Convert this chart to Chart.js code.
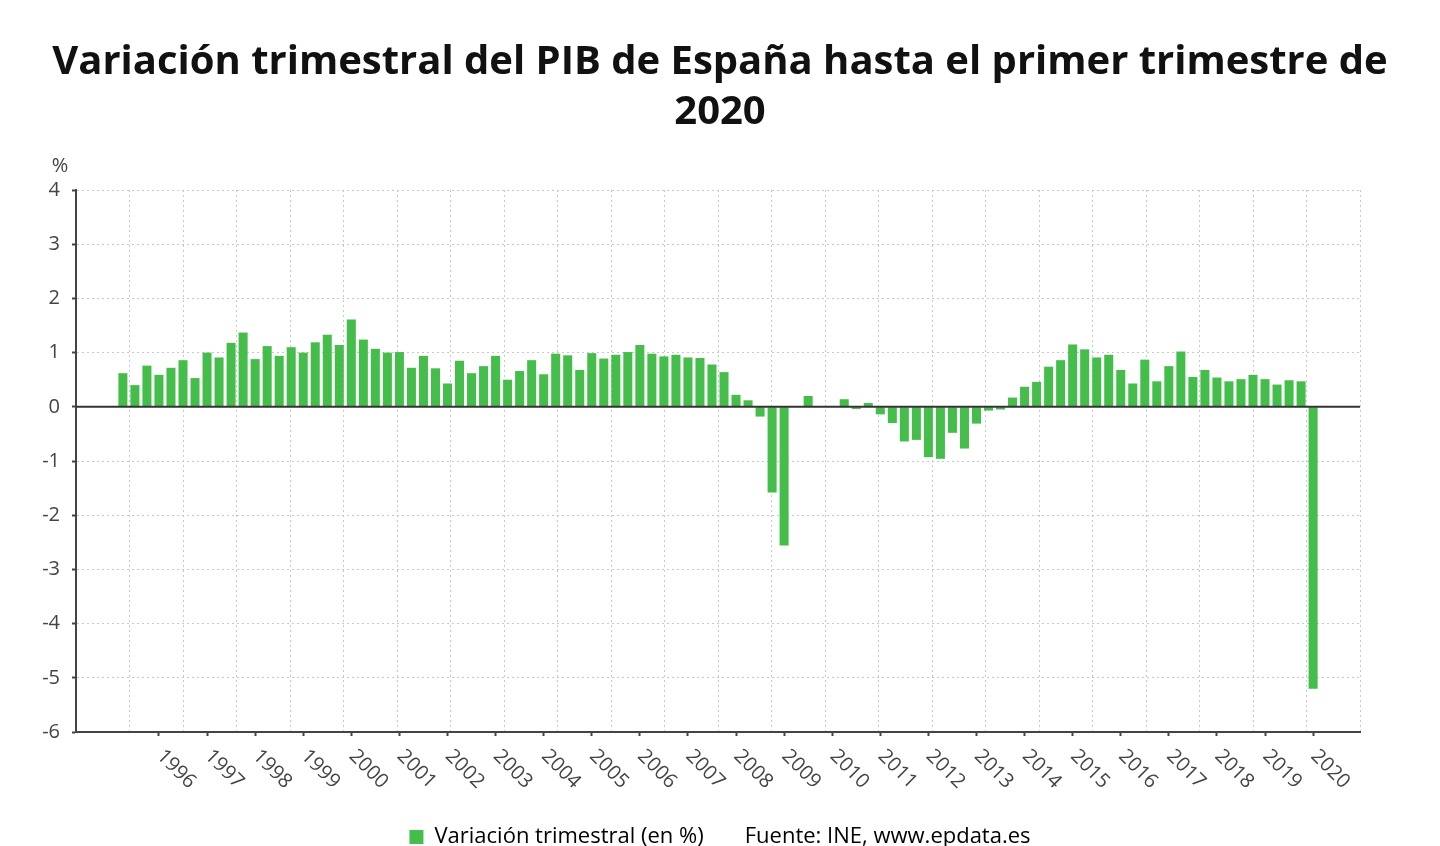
<!DOCTYPE html>
<html lang="es">
<head>
<meta charset="utf-8">
<title>Variación trimestral del PIB de España</title>
<script src="https://cdn.jsdelivr.net/npm/chart.js@4.4.1/dist/chart.umd.min.js"></script>
<style>
  html, body { margin: 0; padding: 0; background: #fff; overflow: hidden; }
  #wrap { width: 1440px; height: 858px; }
</style>
</head>
<body>
<div id="wrap"><canvas id="pibChart" width="1440" height="858"></canvas></div>
<script>
const titleLines = ['Variación trimestral del PIB de España hasta el primer trimestre de', '2020'];
const seriesName = 'Variación trimestral (en %)';
const sourceNote = 'Fuente: INE, www.epdata.es';
const unitLabel = '%';

const quarters = [
  '1995 T2', '1995 T3', '1995 T4',
  '1996 T1', '1996 T2', '1996 T3', '1996 T4',
  '1997 T1', '1997 T2', '1997 T3', '1997 T4',
  '1998 T1', '1998 T2', '1998 T3', '1998 T4',
  '1999 T1', '1999 T2', '1999 T3', '1999 T4',
  '2000 T1', '2000 T2', '2000 T3', '2000 T4',
  '2001 T1', '2001 T2', '2001 T3', '2001 T4',
  '2002 T1', '2002 T2', '2002 T3', '2002 T4',
  '2003 T1', '2003 T2', '2003 T3', '2003 T4',
  '2004 T1', '2004 T2', '2004 T3', '2004 T4',
  '2005 T1', '2005 T2', '2005 T3', '2005 T4',
  '2006 T1', '2006 T2', '2006 T3', '2006 T4',
  '2007 T1', '2007 T2', '2007 T3', '2007 T4',
  '2008 T1', '2008 T2', '2008 T3', '2008 T4',
  '2009 T1', '2009 T2', '2009 T3', '2009 T4',
  '2010 T1', '2010 T2', '2010 T3', '2010 T4',
  '2011 T1', '2011 T2', '2011 T3', '2011 T4',
  '2012 T1', '2012 T2', '2012 T3', '2012 T4',
  '2013 T1', '2013 T2', '2013 T3', '2013 T4',
  '2014 T1', '2014 T2', '2014 T3', '2014 T4',
  '2015 T1', '2015 T2', '2015 T3', '2015 T4',
  '2016 T1', '2016 T2', '2016 T3', '2016 T4',
  '2017 T1', '2017 T2', '2017 T3', '2017 T4',
  '2018 T1', '2018 T2', '2018 T3', '2018 T4',
  '2019 T1', '2019 T2', '2019 T3', '2019 T4',
  '2020 T1'
];

const quarterlyChange = [
  0.62, 0.40, 0.76,
  0.59, 0.72, 0.86, 0.53,
  1.00, 0.91, 1.18, 1.37,
  0.88, 1.12, 0.94, 1.10,
  1.00, 1.19, 1.33, 1.14,
  1.61, 1.24, 1.07, 1.00,
  1.01, 0.72, 0.94, 0.71,
  0.43, 0.85, 0.62, 0.75,
  0.94, 0.50, 0.66, 0.86,
  0.60, 0.98, 0.95, 0.68,
  0.99, 0.89, 0.96, 1.01,
  1.14, 0.98, 0.93, 0.96,
  0.91, 0.90, 0.78, 0.64,
  0.22, 0.12, -0.18, -1.58,
  -2.56, -0.01, 0.20, 0.01,
  -0.01, 0.14, -0.04, 0.07,
  -0.14, -0.30, -0.64, -0.61,
  -0.93, -0.96, -0.48, -0.77,
  -0.31, -0.07, -0.05, 0.17,
  0.37, 0.46, 0.74, 0.86,
  1.15, 1.06, 0.91, 0.96,
  0.68, 0.43, 0.87, 0.47,
  0.75, 1.02, 0.55, 0.68,
  0.54, 0.47, 0.51, 0.59,
  0.51, 0.41, 0.49, 0.47,
  -5.20
];

const yearTicks = [
  '1996', '1997', '1998', '1999', '2000', '2001', '2002', '2003', '2004',
  '2005', '2006', '2007', '2008', '2009', '2010', '2011', '2012', '2013',
  '2014', '2015', '2016', '2017', '2018', '2019', '2020'
];

const fontFamily = '"Open Sans", "Noto Sans", sans-serif';
const barColor = '#44bd4a';
const gridColor = '#c8c8c8';
const axisColor = '#444';
const gridColumns = 24;

function yearTickIndexes() {
  return yearTicks.map(year => quarters.indexOf(year + ' T1'));
}

function buildPoints() {
  return quarterlyChange.map((value, i) => ({ x: i, y: value }));
}

// year labels run downwards to the right, which Chart.js can't rotate natively
const yearLabelsPlugin = {
  id: 'yearLabels',
  afterDraw(chart) {
    const { ctx, chartArea } = chart;
    const xScale = chart.scales.x;
    ctx.save();
    ctx.font = '20px ' + fontFamily;
    ctx.fillStyle = axisColor;
    ctx.textAlign = 'left';
    ctx.textBaseline = 'middle';
    yearTicks.forEach(year => {
      const px = xScale.getPixelForValue(quarters.indexOf(year + ' T1'));
      ctx.save();
      ctx.translate(px + 1, chartArea.bottom + 21);
      ctx.rotate(Math.PI / 4);
      ctx.fillText(year, 0, 0);
      ctx.restore();
    });
    ctx.textAlign = 'center';
    ctx.fillText(unitLabel, chartArea.left - 16, chartArea.top - 24);
    ctx.restore();
  }
};

const zeroLinePlugin = {
  id: 'zeroLine',
  afterDatasetsDraw(chart) {
    const { ctx, chartArea } = chart;
    const y = chart.scales.y.getPixelForValue(0);
    ctx.save();
    ctx.strokeStyle = '#333';
    ctx.lineWidth = 2;
    ctx.beginPath();
    ctx.moveTo(chartArea.left, y);
    ctx.lineTo(chartArea.right, y);
    ctx.stroke();
    ctx.restore();
  }
};

function isZeroTick(ctx) {
  return ctx.tick && ctx.tick.value === 0;
}

function init() {
  const ctx = document.getElementById('pibChart').getContext('2d');
  new Chart(ctx, {
    type: 'bar',
    data: {
      datasets: [{
        label: seriesName,
        data: buildPoints(),
        backgroundColor: barColor,
        borderWidth: 0,
        barPercentage: 0.75,
        categoryPercentage: 1
      }]
    },
    options: {
      responsive: false,
      animation: false,
      layout: { padding: 0 },
      scales: {
        x: {
          type: 'linear',
          min: -3.9,
          max: 102.9,
          offset: false,
          afterBuildTicks: scale => {
            scale.ticks = yearTickIndexes().map(value => ({ value }));
          },
          afterFit: scale => { scale.height = 78; },
          ticks: { display: false },
          grid: {
            offset: false,
            drawOnChartArea: false,
            drawTicks: true,
            tickLength: 4,
            tickWidth: 2,
            tickColor: axisColor
          },
          border: { color: axisColor, width: 2 }
        },
        xGrid: {
          type: 'linear',
          axis: 'x',
          position: 'top',
          min: 0,
          max: gridColumns,
          offset: false,
          afterBuildTicks: scale => {
            scale.ticks = Array.from({ length: gridColumns + 1 }, (_, i) => ({ value: i }));
          },
          afterFit: scale => { scale.height = 0; },
          ticks: { display: false },
          grid: { offset: false, color: gridColor, lineWidth: 1, drawTicks: false },
          border: { display: false, dash: [2, 3] }
        },
        y: {
          min: -6,
          max: 4,
          afterFit: scale => { scale.width = 76; },
          ticks: {
            stepSize: 1,
            padding: 12,
            color: axisColor,
            font: { family: fontFamily, size: 20 }
          },
          grid: {
            color: ctx => isZeroTick(ctx) ? '#333' : gridColor,
            lineWidth: 1,
            tickLength: 4,
            tickWidth: 2,
            tickColor: axisColor
          },
          border: {
            color: axisColor,
            width: 2,
            dash: ctx => isZeroTick(ctx) ? [] : [2, 3]
          }
        },
        // empty right-hand axis, only keeps a margin beside the plot
        rightMargin: {
          type: 'linear',
          axis: 'y',
          position: 'right',
          afterFit: scale => { scale.width = 80; },
          ticks: { display: false },
          grid: { display: false },
          border: { display: false }
        }
      },
      plugins: {
        tooltip: { enabled: false },
        title: {
          display: true,
          text: titleLines,
          color: '#111',
          font: { family: fontFamily, size: 40, weight: 'bold', lineHeight: 1.25 },
          padding: { top: 38, bottom: 52 }
        },
        legend: {
          position: 'bottom',
          onClick: () => {},
          labels: {
            boxWidth: 14,
            boxHeight: 14,
            padding: 16,
            color: '#222',
            font: { family: fontFamily, size: 22 },
            generateLabels: () => [
              { text: seriesName, fillStyle: barColor, strokeStyle: barColor, lineWidth: 0, hidden: false, datasetIndex: 0 },
              { text: sourceNote, fillStyle: 'rgba(0,0,0,0)', strokeStyle: 'rgba(0,0,0,0)', lineWidth: 0, hidden: false }
            ]
          }
        }
      }
    },
    plugins: [yearLabelsPlugin, zeroLinePlugin]
  });
}

window.addEventListener('DOMContentLoaded', init);
</script>
</body>
</html>
